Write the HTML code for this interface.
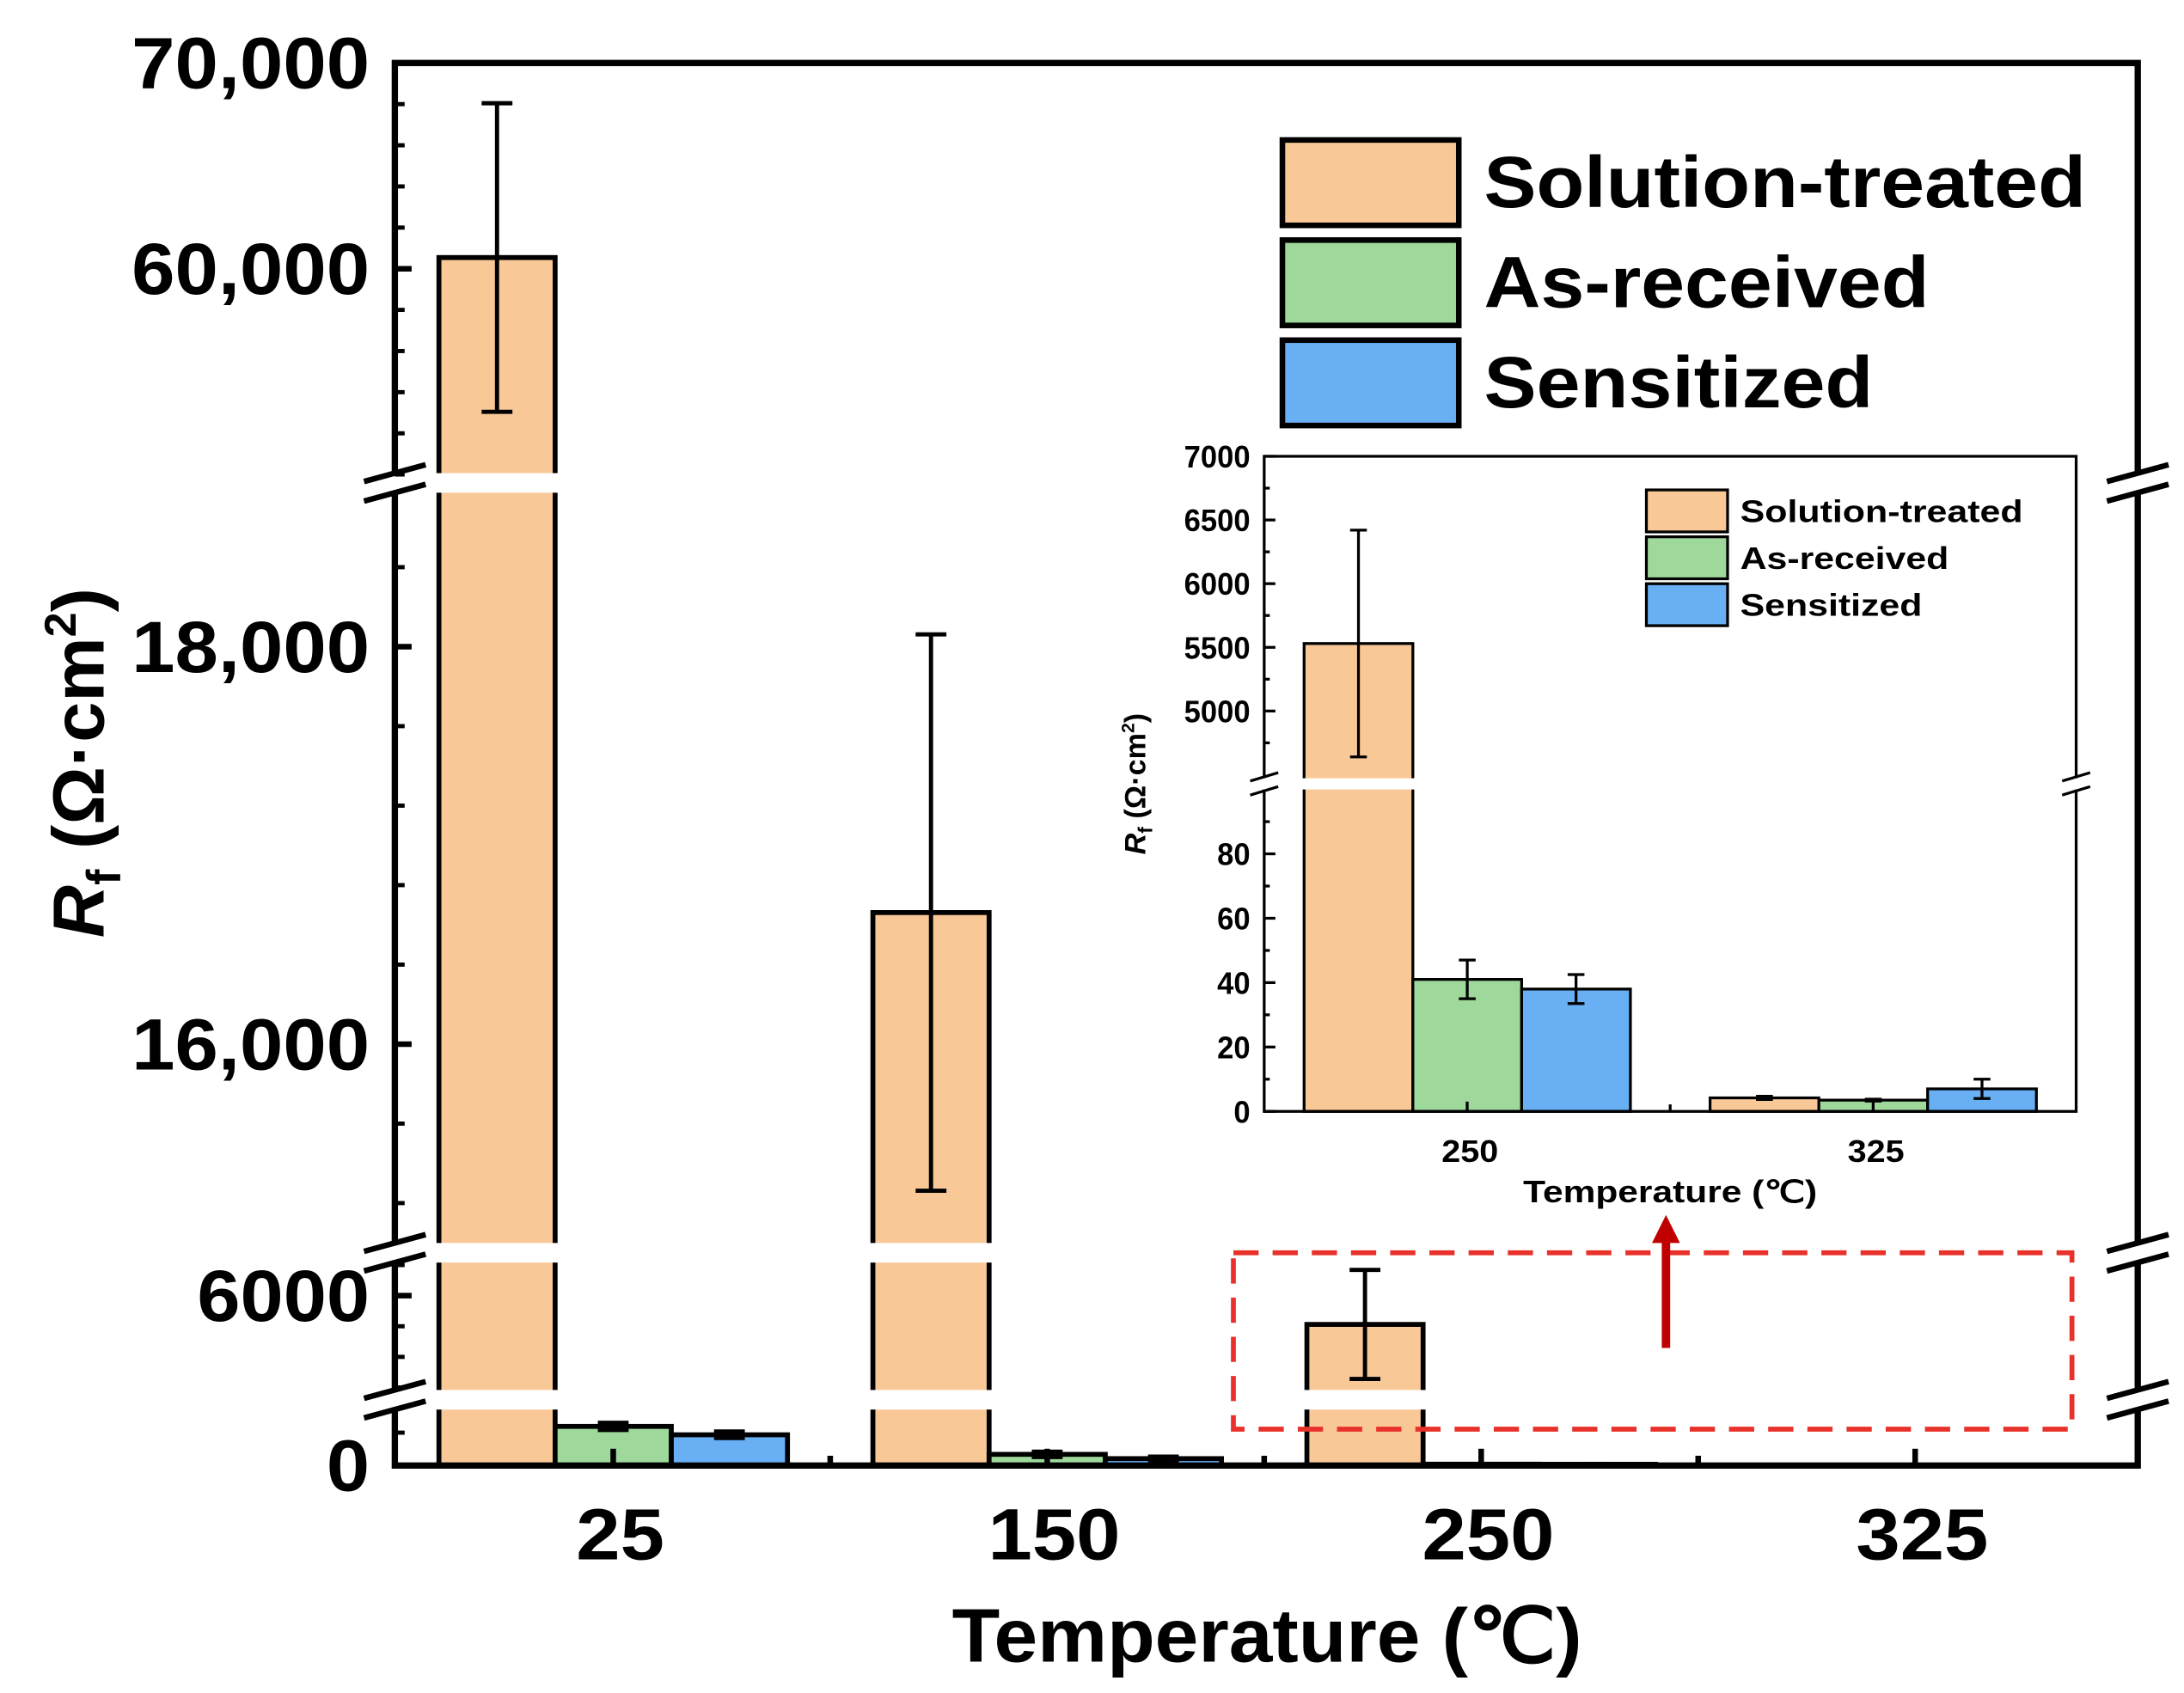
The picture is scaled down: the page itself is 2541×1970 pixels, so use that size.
<!DOCTYPE html>
<html><head><meta charset="utf-8">
<style>
html,body{margin:0;padding:0;background:#fff;}
svg{display:block;}
text{font-family:"Liberation Sans",Arial,sans-serif;font-weight:bold;fill:#000;}
</style></head>
<body>
<svg id="chart" width="2541" height="1970" viewBox="0 0 1560 1209.5" xmlns="http://www.w3.org/2000/svg">
<rect x="0" y="0" width="1560" height="1209.5" fill="#fff"/>
<g id="main"></g>
<g id="inset"></g>
</svg>
<script>
// ---- data (main chart) ----
const categories = ["25", "150", "250", "325"];
const seriesNames = ["Solution-treated", "As-received", "Sensitized"];
const solutionTreated = [60544, 16662, 5530, 4.2];
const solutionTreatedErr = [7500, 1400, 890, 0.5];
const asReceived = [1190, 340, 41, 3.5];
const asReceivedErr = [110, 80, 6, 0.3];
const sensitized = [935, 210, 38, 7];
const sensitizedErr = [100, 60, 4.5, 3];
const mainTickLabels = ["0", "6000", "16,000", "18,000", "60,000", "70,000"];
const mainTickValues = [0, 6000, 16000, 18000, 60000, 70000];
// ---- data (inset) ----
const insetCategories = ["250", "325"];
const insetST = [5530, 4.2];
const insetSTErr = [890, 0.5];
const insetAR = [41, 3.5];
const insetARErr = [6, 0.3];
const insetSE = [38, 7];
const insetSEErr = [4.5, 3];
const insetTickValues = [0, 20, 40, 60, 80, 5000, 5500, 6000, 6500, 7000];

const NS = "http://www.w3.org/2000/svg";
const colors = ["#f9c897", "#9fd89b", "#68aff4"];
function mk(parent, tag, attrs) {
  const e = document.createElementNS(NS, tag);
  for (const k in attrs) e.setAttribute(k, attrs[k]);
  parent.appendChild(e);
  return e;
}
function fit(t, perChar) {
  t.setAttribute("textLength", t.textContent.length * perChar);
  t.setAttribute("lengthAdjust", "spacingAndGlyphs");
}
function piecewise(segs) {
  return function (v) {
    let s = segs[0];
    for (const sg of segs) { if (v >= sg.v0) s = sg; }
    const t = (v - s.v0) / (s.v1 - s.v0);
    return s.y0 + t * (s.y1 - s.y0);
  };
}

// ===== MAIN =====
const gm = document.getElementById("main");
const L = 282, R = 1527, T = 45, B = 1047;
const mainSegs = [
  {v0: 0, v1: 2000, y0: 1047, y1: 1000},
  {v0: 4300, v1: 6700, y0: 1000, y1: 895},
  {v0: 14950, v1: 18824, y0: 895, y1: 345},
  {v0: 49590, v1: 70000, y0: 345, y1: 45}
];
const yM = piecewise(mainSegs);
const groupW = 249, barW = 83;
const x0 = 438, groupStep = 310;
function xM(i) { return x0 + i * groupStep; }
const mainSeries = [solutionTreated, asReceived, sensitized];
const mainErrs = [solutionTreatedErr, asReceivedErr, sensitizedErr];
categories.forEach((c, i) => {
  for (let s = 0; s < 3; s++) {
    const v = mainSeries[s][i];
    const bx = xM(i) - groupW / 2 + s * barW;
    const top = yM(v);
    const r = mk(gm, "rect", {x: bx, y: top, width: barW, height: B - top, fill: colors[s], stroke: "#000", "stroke-width": 3.5});
    
    
    const e = mainErrs[s][i];
    const cx = bx + barW / 2;
    const hi = yM(v + e), lo = yM(Math.max(0, v - e));
    const eg = mk(gm, "g", {stroke: "#000", "stroke-width": 3});
    
    
    mk(eg, "line", {x1: cx, x2: cx, y1: hi, y2: lo});
    mk(eg, "line", {x1: cx - 11, x2: cx + 11, y1: hi, y2: hi});
    mk(eg, "line", {x1: cx - 11, x2: cx + 11, y1: lo, y2: lo});
  }
});
const breakYs = [1000, 895, 345];
breakYs.forEach(by => {
  mk(gm, "rect", {x: L + 4, y: by - 7, width: R - L - 8, height: 14, fill: "#fff"});
});
const fr = mk(gm, "rect", {x: L, y: T, width: R - L, height: B - T, fill: "none", stroke: "#000", "stroke-width": 4.5});


breakYs.forEach(by => {
  [L, R].forEach(ax => {
    mk(gm, "rect", {x: ax - 4, y: by - 6, width: 8, height: 12, fill: "#fff"});
    const sg = mk(gm, "g", {stroke: "#000", "stroke-width": 4});
    
    
    mk(sg, "line", {x1: ax - 22, y1: by - 1, x2: ax + 22, y2: by - 13});
    mk(sg, "line", {x1: ax - 22, y1: by + 13, x2: ax + 22, y2: by + 1});
  });
});
const minorSets = [[1000], [4500, 5000, 5500, 6500], [15200, 15600, 16400, 16800, 17200, 17600, 18400], [50000, 52000, 54000, 56000, 58000, 62000, 64000, 66000, 68000]];
minorSets.flat().forEach(v => mk(gm, "line", {x1: L, x2: L + 7, y1: yM(v), y2: yM(v), stroke: "#000", "stroke-width": 3}));
mainTickValues.forEach((v, k) => {
  const y = yM(v);
  mk(gm, "line", {x1: L, x2: L + 12, y1: y, y2: y, stroke: "#000", "stroke-width": 4});
  const t = mk(gm, "text", {x: 264, y: y + 18, "text-anchor": "end", "font-size": 52});
  t.textContent = mainTickLabels[k];
  const n = t.textContent.replace(",", "").length, hasComma = t.textContent.includes(",");
  t.setAttribute("textLength", n * 30.8 + (hasComma ? 16 : 0));
  t.setAttribute("lengthAdjust", "spacingAndGlyphs");
  
  
});
categories.forEach((c, i) => {
  mk(gm, "line", {x1: xM(i), x2: xM(i), y1: B, y2: B - 12, stroke: "#000", "stroke-width": 4});
  if (i < categories.length - 1) mk(gm, "line", {x1: xM(i) + groupStep / 2, x2: xM(i) + groupStep / 2, y1: B, y2: B - 7, stroke: "#000", "stroke-width": 4});
  const t = mk(gm, "text", {x: xM(i) + 5, y: 1114, "text-anchor": "middle", "font-size": 52});
  t.textContent = c;
  fit(t, 31.5);
  
  
});
const xt = mk(gm, "text", {x: 905, y: 1187, "text-anchor": "middle", "font-size": 54});
xt.textContent = "Temperature (℃)";
xt.setAttribute("textLength", 450);
xt.setAttribute("lengthAdjust", "spacingAndGlyphs");


const yt = mk(gm, "text", {x: 0, y: 0, "text-anchor": "middle", "font-size": 52, transform: "translate(74,545) rotate(-90)"});
yt.innerHTML = '<tspan font-style="italic">R</tspan><tspan font-size="34" dy="12">f</tspan><tspan dy="-12"> (Ω·cm</tspan><tspan font-size="32" dy="-20">2</tspan><tspan dy="20">)</tspan>';


const legendLens = [430, 318, 278];
seriesNames.forEach((n, s) => {
  const ly = 100 + s * 71.5;
  const r = mk(gm, "rect", {x: 916, y: ly, width: 126, height: 61, fill: colors[s], stroke: "#000", "stroke-width": 4});
  
  
  const t = mk(gm, "text", {x: 1060, y: ly + 48, "font-size": 52, textLength: legendLens[s], lengthAdjust: "spacingAndGlyphs"});
  t.textContent = n;
  
  
});
const db = mk(gm, "rect", {x: 881, y: 895, width: 599, height: 126, fill: "none", stroke: "#e8312a", "stroke-width": 3.5, "stroke-dasharray": "18 10"});


const ar = mk(gm, "g", {});


mk(ar, "line", {x1: 1190, x2: 1190, y1: 963, y2: 885, stroke: "#c00000", "stroke-width": 6});
mk(ar, "polygon", {points: "1180,888 1200,888 1190,868", fill: "#c00000"});

// ===== INSET =====
const gi = document.getElementById("inset");
const iL = 903, iR = 1483, iT = 326, iB = 794;
const yI = piecewise([
  {v0: 0, v1: 100, y0: 794, y1: 564},
  {v0: 4450, v1: 7000, y0: 558, y1: 326}
]);
const iGroupW = 233, iBarW = 77.7, ix0 = 1048, iStep = 290;
function xI(i) { return ix0 + i * iStep; }
const iSeries = [insetST, insetAR, insetSE], iErrs = [insetSTErr, insetARErr, insetSEErr];
insetCategories.forEach((c, i) => {
  for (let s = 0; s < 3; s++) {
    const v = iSeries[s][i];
    const bx = xI(i) - iGroupW / 2 + s * iBarW;
    const top = yI(v);
    const r = mk(gi, "rect", {x: bx, y: top, width: iBarW, height: iB - top, fill: colors[s], stroke: "#000", "stroke-width": 2});
    
    
    const e = iErrs[s][i], cx = bx + iBarW / 2;
    const hi = yI(v + e), lo = yI(Math.max(0, v - e));
    const eg = mk(gi, "g", {stroke: "#000", "stroke-width": 2});
    
    
    mk(eg, "line", {x1: cx, x2: cx, y1: hi, y2: lo});
    mk(eg, "line", {x1: cx - 6, x2: cx + 6, y1: hi, y2: hi});
    mk(eg, "line", {x1: cx - 6, x2: cx + 6, y1: lo, y2: lo});
  }
});
mk(gi, "rect", {x: iL + 2, y: 556, width: iR - iL - 4, height: 8, fill: "#fff"});
const ifr = mk(gi, "rect", {x: iL, y: iT, width: iR - iL, height: iB - iT, fill: "none", stroke: "#000", "stroke-width": 2});


[iL, iR].forEach(ax => {
  mk(gi, "rect", {x: ax - 3, y: 556, width: 6, height: 8, fill: "#fff"});
  mk(gi, "line", {x1: ax - 10, y1: 558, x2: ax + 10, y2: 552, stroke: "#000", "stroke-width": 2});
  mk(gi, "line", {x1: ax - 10, y1: 568, x2: ax + 10, y2: 562, stroke: "#000", "stroke-width": 2});
});
[10, 30, 50, 70, 90, 4750, 5250, 5750, 6250, 6750].forEach(v => mk(gi, "line", {x1: iL, x2: iL + 4, y1: yI(v), y2: yI(v), stroke: "#000", "stroke-width": 2}));
insetTickValues.forEach(v => {
  const y = yI(v);
  mk(gi, "line", {x1: iL, x2: iL + 8, y1: y, y2: y, stroke: "#000", "stroke-width": 2});
  const t = mk(gi, "text", {x: 893, y: y + 8, "text-anchor": "end", "font-size": 22});
  t.textContent = String(v);
  fit(t, 11.8);
  
  
});
insetCategories.forEach((c, i) => {
  mk(gi, "line", {x1: xI(i), x2: xI(i), y1: iB, y2: iB - 7, stroke: "#000", "stroke-width": 2});
  const t = mk(gi, "text", {x: xI(i) + 2, y: 830, "text-anchor": "middle", "font-size": 22});
  t.textContent = c;
  fit(t, 13.5);
  
  
});
mk(gi, "line", {x1: xI(0) + iStep / 2, x2: xI(0) + iStep / 2, y1: iB, y2: iB - 5, stroke: "#000", "stroke-width": 2});
const ixt = mk(gi, "text", {x: 1193, y: 859, "text-anchor": "middle", "font-size": 22, textLength: 210, lengthAdjust: "spacingAndGlyphs"});
ixt.textContent = "Temperature (℃)";


const iyt = mk(gi, "text", {x: 0, y: 0, "text-anchor": "middle", "font-size": 21, transform: "translate(818,560) rotate(-90)"});
iyt.innerHTML = '<tspan font-style="italic">R</tspan><tspan font-size="14" dy="5">f</tspan><tspan dy="-5"> (Ω·cm</tspan><tspan font-size="13" dy="-8">2</tspan><tspan dy="8">)</tspan>';


const iLegendLens = [202, 149, 130];
seriesNames.forEach((n, s) => {
  const ly = 350 + s * 33.5;
  const r = mk(gi, "rect", {x: 1176, y: ly, width: 58, height: 30, fill: colors[s], stroke: "#000", "stroke-width": 2});
  
  
  const t = mk(gi, "text", {x: 1243, y: ly + 23, "font-size": 22, textLength: iLegendLens[s], lengthAdjust: "spacingAndGlyphs"});
  t.textContent = n;
  
  
});
</script>
</body></html>
